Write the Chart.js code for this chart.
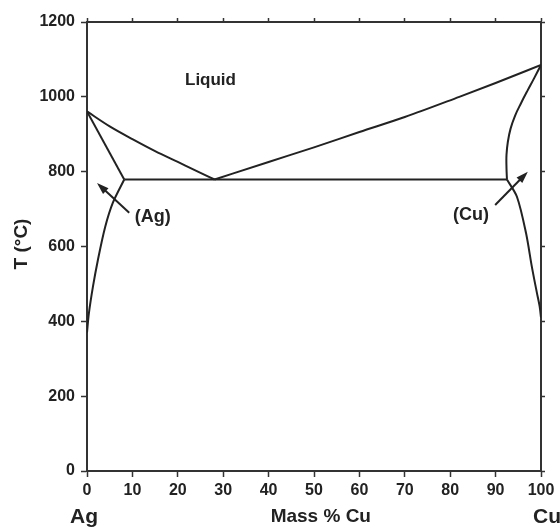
<!DOCTYPE html>
<html>
<head>
<meta charset="utf-8">
<script src="https://cdn.jsdelivr.net/npm/chart.js@4/dist/chart.umd.min.js"></script>
<style>
  body { margin: 0; background: #fff; }
  canvas { display: block; }
</style>
</head>
<body>
<canvas class="js-chart" width="560" height="528"></canvas>
<script>
// Ag-Cu phase diagram, mass % Cu vs temperature (deg C)
const leftLiquidusCu = [0, 5, 10, 15, 20, 25, 28.1];
const leftLiquidusT = [961, 921, 887, 855, 826, 797, 779];

const rightLiquidusCu = [28.1, 40, 50, 60, 70, 82, 90, 100];
const rightLiquidusT = [779, 826, 865, 906, 946, 1000, 1037, 1085];

const leftSolidusCu = [0, 8.2];
const leftSolidusT = [961, 779];

const leftSolvusCu = [8.2, 5.7, 4.0, 2.4, 1.3, 0.4, 0];
const leftSolvusT = [779, 717, 652, 564, 492, 420, 370];

const rightSolidusCu = [100, 98.5, 97, 95.6, 94.3, 93.3, 92.7, 92.4, 92.4, 92.5];
const rightSolidusT = [1085, 1050, 1016, 983, 950, 915, 880, 845, 810, 779];

const rightSolvusCu = [92.5, 94.7, 96.7, 98, 99.1, 99.7, 100];
const rightSolvusT = [779, 733, 636, 545, 476, 440, 410];

const eutecticCu = [8.2, 92.5];
const eutecticT = [779, 779];

// region labels and arrows (data coordinates)
const regionLabels = ["Liquid", "(Ag)", "(Cu)"];
const regionLabelCu = [27.2, 14.5, 84.6];
const regionLabelT = [1043, 680, 684];

const arrowTailCu = [9.3, 89.9];
const arrowTailT = [690, 711];
const arrowTipCu = [2.2, 97.1];
const arrowTipT = [770, 800];

const endLabels = ["Ag", "Cu"];
const endLabelCu = [0, 100];

const ink = "#222";
const ctx = document.querySelector(".js-chart").getContext("2d");

function toPoints(xs, ys) {
  return xs.map((x, i) => ({ x: x, y: ys[i] }));
}

function curve(xs, ys, tension, mode) {
  return {
    data: toPoints(xs, ys),
    showLine: true,
    borderColor: ink,
    borderWidth: 2,
    pointRadius: 0,
    tension: tension,
    cubicInterpolationMode: mode || "default",
    fill: false,
  };
}

const textPlugin = {
  id: "phaseText",
  afterDraw(chart) {
    const c = chart.ctx;
    const xs = chart.scales.x;
    const ys = chart.scales.y;
    const area = chart.chartArea;
    c.save();
    c.fillStyle = ink;
    c.strokeStyle = ink;
    c.textAlign = "center";
    c.textBaseline = "middle";
    regionLabels.forEach((t, i) => {
      c.font = (i === 0 ? "bold 17px" : "bold 18px") + " 'Liberation Sans', Arial, sans-serif";
      c.fillText(t, xs.getPixelForValue(regionLabelCu[i]), ys.getPixelForValue(regionLabelT[i]));
    });

    // arrows
    c.lineWidth = 2;
    arrowTailCu.forEach((_, i) => {
      const x0 = xs.getPixelForValue(arrowTailCu[i]);
      const y0 = ys.getPixelForValue(arrowTailT[i]);
      const x1 = xs.getPixelForValue(arrowTipCu[i]);
      const y1 = ys.getPixelForValue(arrowTipT[i]);
      const ang = Math.atan2(y1 - y0, x1 - x0);
      c.beginPath();
      c.moveTo(x0, y0);
      c.lineTo(x1 - 6 * Math.cos(ang), y1 - 6 * Math.sin(ang));
      c.stroke();
      c.beginPath();
      c.moveTo(x1, y1);
      c.lineTo(x1 - 12 * Math.cos(ang) + 4 * Math.sin(ang), y1 - 12 * Math.sin(ang) - 4 * Math.cos(ang));
      c.lineTo(x1 - 12 * Math.cos(ang) - 4 * Math.sin(ang), y1 - 12 * Math.sin(ang) + 4 * Math.cos(ang));
      c.closePath();
      c.fill();
    });

    // axis end labels and title
    const yText = area.bottom + 46;
    c.font = "bold 21px 'Liberation Sans', Arial, sans-serif";
    endLabels.forEach((t, i) => {
      c.fillText(t, xs.getPixelForValue(endLabelCu[i]) + (i === 0 ? -3 : 6), yText);
    });
    c.font = "bold 19px 'Liberation Sans', Arial, sans-serif";
    c.fillText("Mass % Cu", xs.getPixelForValue(51.5), yText);

    c.translate(22, 244);
    c.rotate(-Math.PI / 2);
    c.font = "bold 19px 'Liberation Sans', Arial, sans-serif";
    c.fillText("T (°C)", 0, 0);
    c.restore();
  },
};

const gridOpts = {
  drawOnChartArea: false,
  drawTicks: true,
  tickLength: 6,
  tickColor: "#333",
  tickWidth: 1.5,
};
const borderOpts = { display: true, color: "#333", width: 2 };
const tickFont = { family: "'Liberation Sans', Arial, sans-serif", size: 16, weight: "bold" };
const plainNumber = (v) => String(v);

new Chart(ctx, {
  type: "scatter",
  data: {
    datasets: [
      curve(leftLiquidusCu, leftLiquidusT, 0.3, "monotone"),
      curve(rightLiquidusCu, rightLiquidusT, 0.3, "monotone"),
      curve(leftSolidusCu, leftSolidusT, 0),
      curve(leftSolvusCu, leftSolvusT, 0.3),
      curve(rightSolidusCu, rightSolidusT, 0.4),
      curve(rightSolvusCu, rightSolvusT, 0.3),
      curve(eutecticCu, eutecticT, 0),
    ],
  },
  options: {
    responsive: false,
    animation: false,
    layout: { padding: 0 },
    plugins: {
      legend: { display: false },
      tooltip: { enabled: false },
    },
    scales: {
      x: {
        type: "linear",
        position: "bottom",
        min: 0,
        max: 100,
        grid: gridOpts,
        border: borderOpts,
        ticks: { stepSize: 10, color: ink, font: tickFont, padding: 4, maxRotation: 0, callback: plainNumber },
        afterFit: (s) => { s.height = 57; },
      },
      x2: {
        type: "linear",
        position: "top",
        min: 0,
        max: 100,
        grid: { ...gridOpts, tickLength: 4 },
        border: borderOpts,
        ticks: { stepSize: 10, display: false },
        afterFit: (s) => { s.height = 22; },
      },
      y: {
        type: "linear",
        position: "left",
        min: 0,
        max: 1200,
        grid: gridOpts,
        border: borderOpts,
        ticks: { stepSize: 200, color: ink, font: tickFont, padding: 6, callback: plainNumber },
        afterFit: (s) => { s.width = 87; },
      },
      y2: {
        type: "linear",
        position: "right",
        min: 0,
        max: 1200,
        grid: { ...gridOpts, tickLength: 4 },
        border: borderOpts,
        ticks: { stepSize: 200, display: false },
        afterFit: (s) => { s.width = 19; },
      },
    },
  },
  plugins: [textPlugin],
});
</script>
</body>
</html>
